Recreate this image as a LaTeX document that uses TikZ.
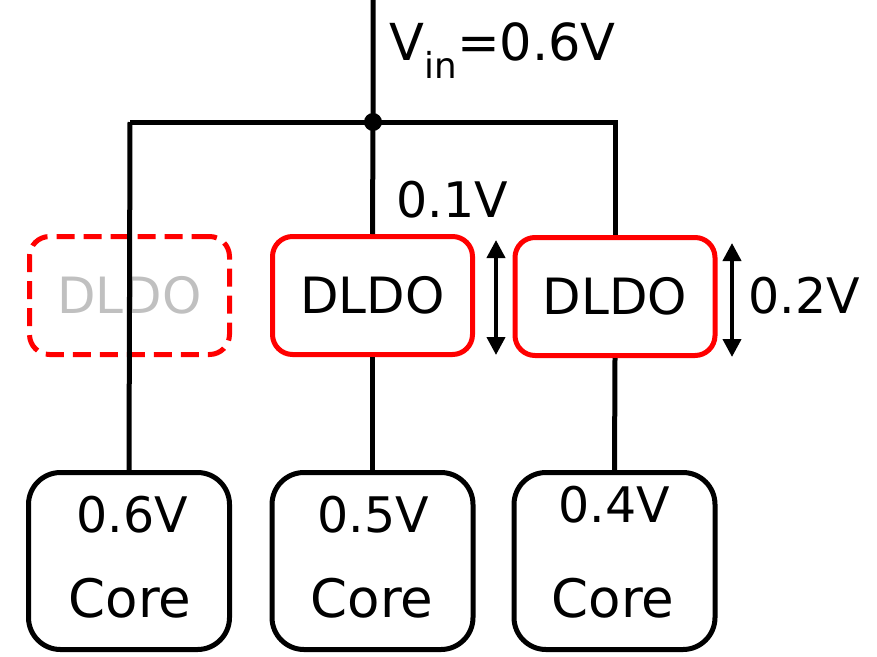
\documentclass[tikz,border=0pt]{standalone}
\usepackage{fontspec}
\setmainfont{DejaVu Sans}
\usetikzlibrary{arrows.meta}
\definecolor{ghost}{RGB}{192,192,192}
\begin{document}
\begin{tikzpicture}[x=1pt,y=-1pt,
  wire/.style={line width=5pt},
  ldo/.style={draw=red, line width=5pt, rounded corners=20pt, minimum width=200pt, minimum height=118pt, inner sep=0pt, font=\fontsize{50}{60}\selectfont},
  corebox/.style={draw=black, line width=5pt, rounded corners=32pt, minimum width=201pt, minimum height=177pt, inner sep=0pt},
  lbl/.style={inner sep=0pt, font=\fontsize{49}{59}\selectfont},
  corelbl/.style={inner sep=0pt, font=\fontsize{53}{63}\selectfont},
  dim/.style={line width=4pt, {Triangle[length=18pt,width=18pt]}-{Triangle[length=18pt,width=18pt]}}
]
\useasboundingbox (0,0) rectangle (877,656);

% DLDO boxes
\node[ldo, dashed, dash pattern=on 18pt off 9pt, text=ghost] (ldo1) at (129.5,295.5) {DLDO};
\node[ldo] (ldo2) at (372.5,295.5) {DLDO};
\node[ldo] (ldo3) at (615,296.5) {DLDO};

% Core boxes
\node[corebox] (core1) at (129,561) {};
\node[corebox] (core2) at (372.5,561) {};
\node[corebox] (core3) at (614.5,561) {};

% Core labels
\node[lbl] (v1) at (132,515) {0.6V};
\node[corelbl] (c1) at (130,598) {Core};
\node[lbl] (v2) at (373,515) {0.5V};
\node[corelbl] (c2) at (372,598) {Core};
\node[lbl] (v3) at (614,505) {0.4V};
\node[corelbl] (c3) at (613,598) {Core};

% voltage labels
\node[lbl, anchor=base west, font=\fontsize{51}{61}\selectfont] (vin) at (389,60) {V\textsubscript{in}=0.6V};
\node[lbl] (drop1) at (452,200) {0.1V};
\node[lbl] (drop2) at (804,296) {0.2V};

% wires
\coordinate (top) at (373,0);
\coordinate (jn) at (373,122);
\coordinate (lc) at (130,122);
\coordinate (rc) at (615,122);
\draw[wire] (top) -- (jn) -- (ldo2.north);
\draw[wire] (lc) -- (rc) -- (ldo3.north);
\draw[wire] (lc) -- (core1.north);
\draw[wire] (ldo2.south) -- (core2.north);
\draw[wire] (ldo3.south) -- (core3.north);
\fill (jn) circle (9pt);

% dimension arrows
\coordinate (a1t) at (496,240);
\coordinate (a1b) at (496,355);
\coordinate (a2t) at (732,243);
\coordinate (a2b) at (732,357);
\draw[dim] (a1t) -- (a1b);
\draw[dim] (a2t) -- (a2b);
\end{tikzpicture}
\end{document}
